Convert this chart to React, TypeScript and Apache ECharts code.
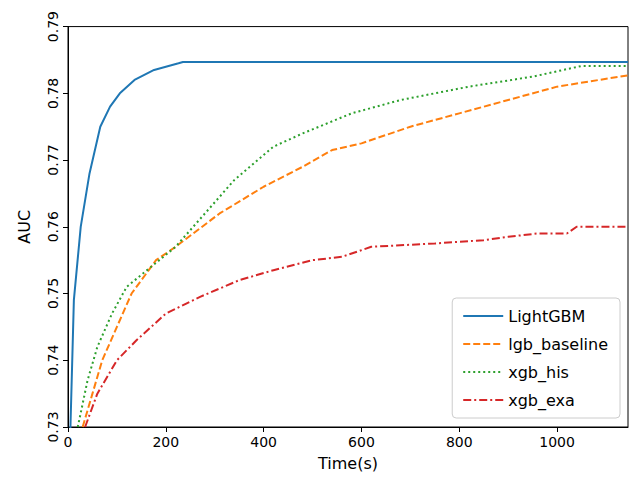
import { useRef, useEffect } from 'react';
import * as echarts from 'echarts';

const lightgbm: [number, number][] = [
  [0, 0.722], [5, 0.73], [12, 0.749], [26, 0.76], [44, 0.768], [66, 0.775], [86, 0.778], [106, 0.78],
  [136, 0.782], [176, 0.7835], [226, 0.7845], [235, 0.7847], [1145, 0.7847],
];
const lgbBaseline: [number, number][] = [
  [30, 0.73], [50, 0.735], [70, 0.74], [100, 0.745], [130, 0.75], [180, 0.755], [220, 0.757],
  [310, 0.762], [400, 0.766], [480, 0.769], [540, 0.7715], [600, 0.7725], [700, 0.775],
  [800, 0.777], [900, 0.779], [1000, 0.781], [1145, 0.7827],
];
const xgbHis: [number, number][] = [
  [20, 0.73], [40, 0.737], [60, 0.742], [90, 0.747], [120, 0.751], [170, 0.754], [220, 0.757],
  [280, 0.762], [340, 0.767], [420, 0.772], [480, 0.774], [580, 0.777], [680, 0.779],
  [820, 0.781], [950, 0.7825], [1050, 0.7841], [1145, 0.7841],
];
const xgbExa: [number, number][] = [
  [35, 0.73], [60, 0.735], [100, 0.74], [140, 0.743], [200, 0.747], [270, 0.7495], [350, 0.752],
  [420, 0.7535], [500, 0.755], [560, 0.7555], [620, 0.757], [750, 0.7575], [850, 0.758],
  [900, 0.7585], [960, 0.759], [1020, 0.759], [1040, 0.76], [1145, 0.76],
];

const font = 'DejaVu Sans';

export default function App() {
  const ref = useRef<HTMLDivElement>(null);
  useEffect(() => {
    if (!ref.current) return;
    const chart = echarts.init(ref.current, null, { renderer: 'svg' });
    const line = (name: string, data: [number, number][], color: string, type: any) => ({
      name, type: 'line', data, showSymbol: false, symbol: 'none', clip: true,
      lineStyle: { color, width: 2, type }, itemStyle: { color },
    });
    chart.setOption({
      animation: false,
      textStyle: { fontFamily: font },
      grid: { left: 49, right: 6, top: 10, bottom: 48, show: true, borderColor: '#000', borderWidth: 1 },
      xAxis: {
        type: 'value', min: 0, max: 1145, interval: 200,
        name: 'Time(s)', nameLocation: 'middle', nameGap: 28,
        nameTextStyle: { color: '#000', fontSize: 16, fontFamily: font },
        axisLine: { lineStyle: { color: '#000' } },
        axisTick: { inside: false, lineStyle: { color: '#000' } },
        axisLabel: { color: '#000', fontSize: 14, fontFamily: font, showMaxLabel: false, formatter: (v: number) => String(v) },
        splitLine: { show: false },
      },
      yAxis: {
        type: 'value', min: 0.73, max: 0.79, interval: 0.01,
        name: 'AUC', nameLocation: 'middle', nameGap: 36, nameRotate: 90,
        nameTextStyle: { color: '#000', fontSize: 16, fontFamily: font },
        axisLine: { lineStyle: { color: '#000' } },
        axisTick: { lineStyle: { color: '#000' } },
        axisLabel: { color: '#000', fontSize: 14, fontFamily: font, rotate: 90, formatter: (v: number) => v.toFixed(2) },
        splitLine: { show: false },
      },
      legend: {
        orient: 'vertical', right: 14, bottom: 58, itemGap: 12, itemWidth: 40, itemHeight: 14,
        padding: [10, 12, 10, 10], borderColor: '#ccc', borderWidth: 1, borderRadius: 4,
        backgroundColor: 'rgba(255,255,255,0.8)',
        itemStyle: { opacity: 0 },
        textStyle: { fontSize: 16, color: '#000', fontFamily: font },
        data: ['LightGBM', 'lgb_baseline', 'xgb_his', 'xgb_exa'],
      },
      series: [
        line('LightGBM', lightgbm, '#1f77b4', 'solid'),
        line('lgb_baseline', lgbBaseline, '#ff7f0e', [7, 3]),
        line('xgb_his', xgbHis, '#2ca02c', [2, 3]),
        line('xgb_exa', xgbExa, '#d62728', [8, 3, 2, 3]),
      ],
    });
    return () => chart.dispose();
  }, []);
  return <div ref={ref} style={{ width: 626, height: 468 }} />;
}
